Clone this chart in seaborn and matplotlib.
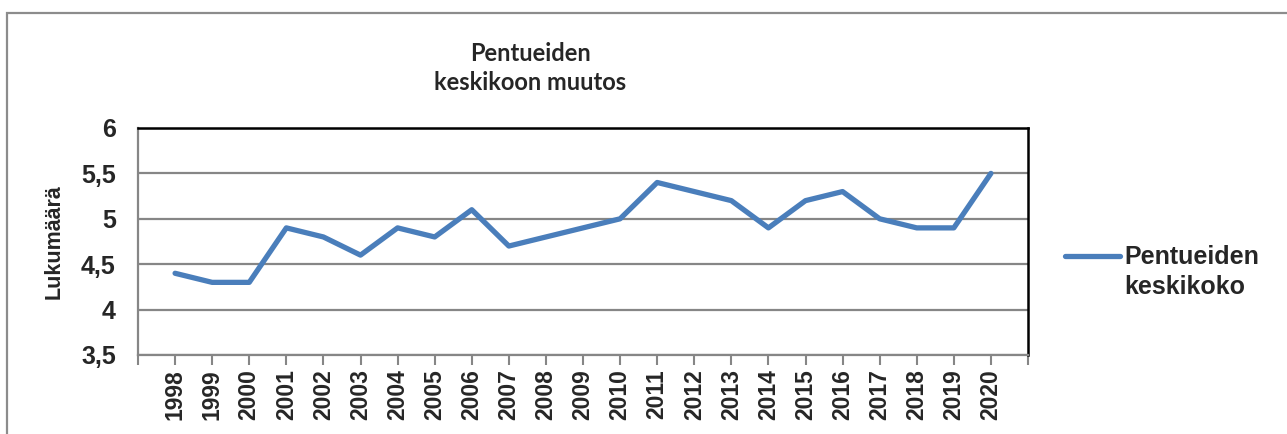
import matplotlib
matplotlib.use("Agg")
import matplotlib.pyplot as plt
from matplotlib.ticker import FuncFormatter
from matplotlib.patches import Rectangle
import numpy as np
import pandas as pd
import seaborn as sns

# data
years = list(range(1998, 2021))
litter_size = [4.4, 4.3, 4.3, 4.9, 4.8, 4.6, 4.9, 4.8, 5.1, 4.7, 4.8, 4.9,
               5.0, 5.4, 5.3, 5.2, 4.9, 5.2, 5.3, 5.0, 4.9, 4.9, 5.5]
y_ticks = [3.5, 4, 4.5, 5, 5.5, 6]

title = "Pentueiden\nkeskikoon muutos"
y_label = "Lukumäärä"
series_label = "Pentueiden\nkeskikoko"

df = pd.DataFrame({"vuosi": years, "koko": litter_size})

sns.set_theme(style="white")
plt.rcParams["font.family"] = ["Liberation Sans", "DejaVu Sans"]

fig = plt.figure(figsize=(12.87, 4.34), dpi=100)
ax = fig.add_axes([138 / 1287, 79 / 434, 890 / 1287, 227 / 434])

sns.lineplot(data=df, x="vuosi", y="koko", ax=ax, color="#4A7EBB",
             linewidth=3.8, label=series_label)

ax.set_xlim(years[0] - 1, years[-1] + 1)
ax.set_ylim(y_ticks[0], y_ticks[-1])
ax.set_yticks(y_ticks)
ax.yaxis.set_major_formatter(FuncFormatter(lambda v, p: f"{v:g}".replace(".", ",")))

ax.set_xticks([years[0] - 1] + years + [years[-1] + 1])
ax.set_xticklabels([""] + [str(y) for y in years] + [""], rotation=90,
                   fontsize=16.5, fontweight="bold")
for lab in ax.get_yticklabels():
    lab.set_fontsize(18)
    lab.set_fontweight("bold")

ax.grid(axis="y", color="#868686", linewidth=1.6)
ax.set_axisbelow(True)
ax.tick_params(axis="x", direction="out", length=7, width=1.5, color="#868686",
               pad=3, bottom=True)
ax.tick_params(axis="y", length=0, pad=16)

for side in ["left", "bottom"]:
    ax.spines[side].set_color("#868686")
    ax.spines[side].set_linewidth(1.6)
for side in ["top", "right"]:
    ax.spines[side].set_color("black")
    ax.spines[side].set_linewidth(1.8)

ax.set_xlabel("")
ax.set_ylabel(y_label, fontsize=15.5, fontweight="bold", labelpad=12)

fig.text(530 / 1287, 1 - 68 / 434, title, ha="center", va="center",
         fontsize=17, fontweight="bold", family=["Lato", "DejaVu Sans"],
         linespacing=1.3)

leg = ax.legend(loc="center left", bbox_to_anchor=(1.016, 0.365), frameon=False,
                prop={"size": 18, "weight": "bold"}, handlelength=2.2,
                handletextpad=0.2)
for txt in leg.get_texts():
    txt.set_linespacing(1.35)
for line in leg.get_lines():
    line.set_linewidth(3.8)
    # put the legend line level with the first text line
    line.set_ydata(np.asarray(line.get_ydata()) + 12)

# outer chart border
fig.patches.append(Rectangle((7 / 1287, -0.2), 1.1, 1.2 - 13 / 434,
                             transform=fig.transFigure, fill=False,
                             edgecolor="#8c8c8c", linewidth=1.6))

fig.savefig("out.png", dpi=100)
